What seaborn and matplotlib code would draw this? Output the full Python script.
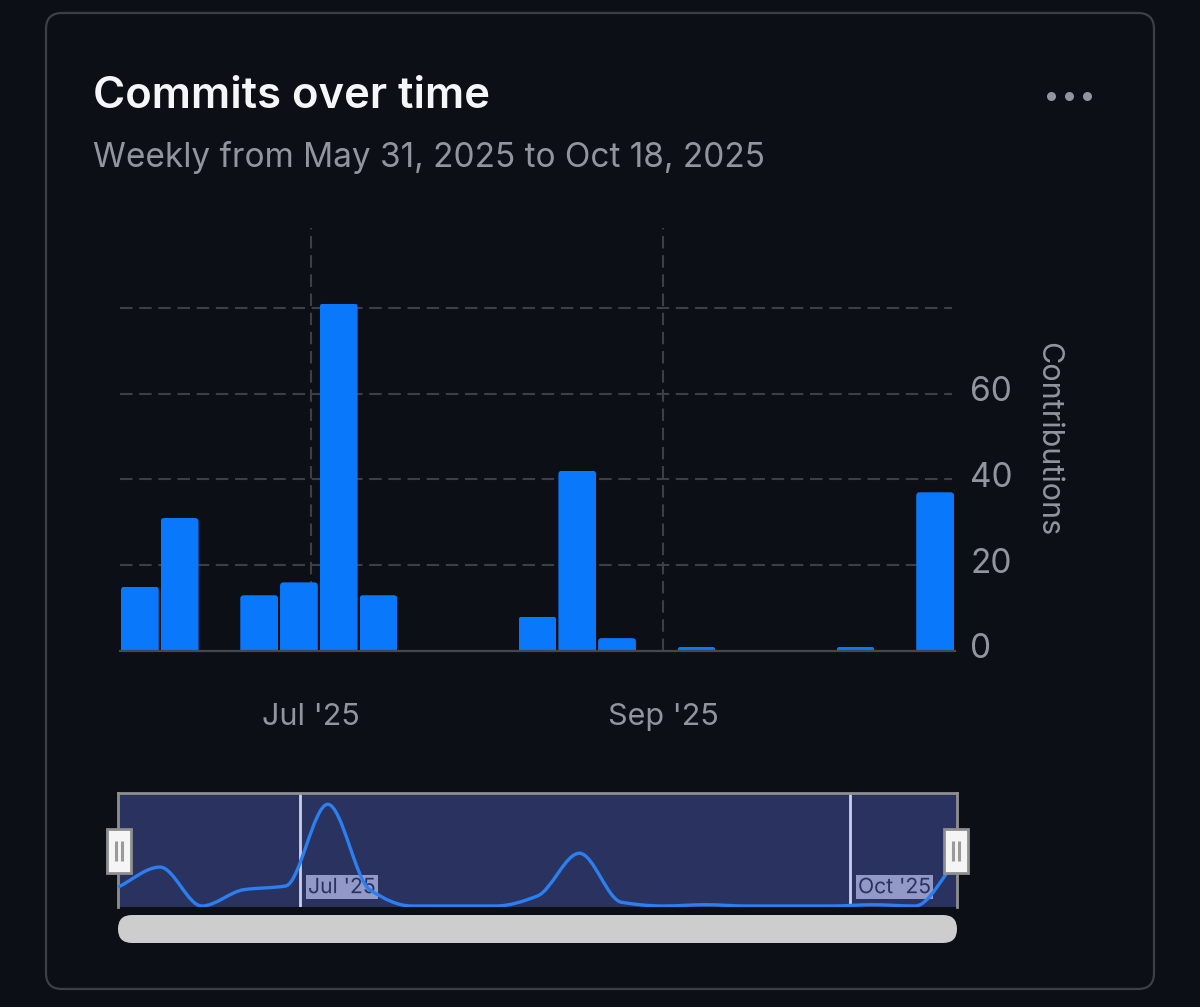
import numpy as np
import pandas as pd
import matplotlib
matplotlib.use("Agg")
import matplotlib.pyplot as plt
import matplotlib.patheffects as pe
import seaborn as sns
from matplotlib.path import Path
from matplotlib.patches import PathPatch, FancyBboxPatch, Rectangle
from matplotlib.transforms import ScaledTranslation

# ---- data ----
weeks = ["May 31", "Jun 7", "Jun 14", "Jun 21", "Jun 28", "Jul 5", "Jul 12", "Jul 19", "Jul 26",
         "Aug 2", "Aug 9", "Aug 16", "Aug 23", "Aug 30", "Sep 6", "Sep 13", "Sep 20", "Sep 27",
         "Oct 4", "Oct 11", "Oct 18"]
commits = [15, 31, 0, 13, 16, 81, 13, 0, 0, 0, 8, 42, 3, 0, 1, 0, 0, 0, 1, 0, 37]
y_ticks = [0, 20, 40, 60]
y_grid = [20, 40, 60, 80]
x_tick_pos = [4.30, 13.16]
x_tick_labels = ["Jul '25", "Sep '25"]
nav_tick_pos = [4.34, 17.45]
nav_tick_labels = ["Jul '25", "Oct '25"]

W, H = 1200, 1007
BG = "#0c0f16"
BLUE = "#0a78fb"
MUTED = "#92959d"
GRID = "#3b3f46"

sns.set_theme(style="dark")
plt.rcParams["font.family"] = ["Inter", "DejaVu Sans"]
plt.rcParams["axes.facecolor"] = "none"

fig = plt.figure(figsize=(W / 100, H / 100), dpi=100, facecolor=BG)

def px_axes(x0, y0, x1, y1, **kw):
    return fig.add_axes([x0 / W, 1 - y1 / H, (x1 - x0) / W, (y1 - y0) / H], **kw)

# overlay in pixel coordinates for the card chrome
bgax = px_axes(0, 0, W, H, zorder=0)
bgax.set_xlim(0, W); bgax.set_ylim(H, 0); bgax.axis("off")
bgax.add_patch(FancyBboxPatch((46, 13), 1108, 976, boxstyle="round,pad=0,rounding_size=16",
                              fc=BG, ec="#3b3f46", lw=1.6))
bgax.text(93, 97, "Commits over time", color="#f4f6f8", fontsize=31.4, fontweight="semibold", va="center")
bgax.text(93, 158, "Weekly from May 31, 2025 to Oct 18, 2025", color=MUTED, fontsize=24, va="center")
for dot_x in (1051, 1069, 1087):
    bgax.plot(dot_x, 96, "o", color=MUTED, ms=6.5, mew=0)

# ---- main chart ----
df = pd.DataFrame({"week": weeks, "commits": commits})
ax = px_axes(120, 228, 955, 651, zorder=2)
sns.barplot(data=df, x="week", y="commits", color=BLUE, saturation=1, width=0.95, ax=ax, zorder=3,
            edgecolor="none", linewidth=0)
ax.set_xlim(-0.5, len(weeks) - 0.5)
ax.set_ylim(0, 98.6)
ax.grid(False)
for s in ("top", "left", "right"):
    ax.spines[s].set_visible(False)
ax.spines["bottom"].set_color("#44484f")
ax.spines["bottom"].set_linewidth(1.6)
ax.spines["bottom"].set_zorder(5)

# rounded top corners of the bars
for bar in ax.containers[0]:
    h = bar.get_height()
    if h <= 0:
        continue
    x0, w = bar.get_x(), bar.get_width()
    rx, ry = 0.09, 0.85
    verts = [(x0, 0), (x0, h - ry), (x0, h), (x0 + rx, h), (x0 + w - rx, h), (x0 + w, h),
             (x0 + w, h - ry), (x0 + w, 0), (x0, 0)]
    codes = [Path.MOVETO, Path.LINETO, Path.CURVE3, Path.CURVE3, Path.LINETO, Path.CURVE3,
             Path.CURVE3, Path.LINETO, Path.CLOSEPOLY]
    bar.set_clip_path(Path(verts, codes), ax.transData)

for v in y_grid:
    ax.plot([-0.5, 20.42], [v, v], color=GRID, lw=1.5, dashes=(6, 3.2), zorder=1)
for p in x_tick_pos:
    ax.plot([p, p], [0, 98.6], color=GRID, lw=1.5, dashes=(6, 3.2), zorder=1)

ax.set_xticks(x_tick_pos, x_tick_labels)
ax.tick_params(axis="x", length=0, pad=37.5, labelsize=22, labelcolor=MUTED)
ax.yaxis.tick_right()
ax.set_yticks(y_ticks, [str(v) for v in y_ticks])
ax.tick_params(axis="y", length=0, pad=11, labelsize=24, labelcolor=MUTED)
offset = ScaledTranslation(0, 5 / 100, fig.dpi_scale_trans)
for lab in ax.get_yticklabels():
    lab.set_transform(lab.get_transform() + offset)
ax.set_xlabel(""); ax.set_ylabel("")
bgax.text(1048, 439, "Contributions", color=MUTED, fontsize=22, rotation=270, ha="center", va="center")

# ---- navigator ----
nav = px_axes(118, 793, 957, 907, zorder=3)
nav.set_facecolor("#2a3360")
nav.patch.set_facecolor("#2a3360")
nav.set_xlim(0, len(commits) - 1)
nav.set_ylim(-0.8, 90)
nav.set_xticks([]); nav.set_yticks([])
nav.set_xlabel(""); nav.set_ylabel("")
for s in ("top", "left", "right"):
    nav.spines[s].set_color("#8f8f8f")
    nav.spines[s].set_linewidth(2)
nav.spines["bottom"].set_visible(False)

# monotone cubic tangents, drawn as Bezier segments through the weekly values
xs = np.arange(len(commits), dtype=float)
ys = np.array(commits, dtype=float)
d = np.diff(ys)
m = np.zeros_like(ys)
for i in range(1, len(ys) - 1):
    if d[i - 1] * d[i] > 0:
        m[i] = 2 * d[i - 1] * d[i] / (d[i - 1] + d[i])
m[0], m[-1] = d[0], d[-1]
verts = [(xs[0], ys[0])]
codes = [Path.MOVETO]
for i in range(len(ys) - 1):
    verts += [(xs[i] + 1 / 3, ys[i] + m[i] / 3), (xs[i + 1] - 1 / 3, ys[i + 1] - m[i + 1] / 3), (xs[i + 1], ys[i + 1])]
    codes += [Path.CURVE4] * 3
nav.add_patch(PathPatch(Path(verts, codes), fc="none", ec="#2b7ff0", lw=2.4, zorder=5))
for p, lab in zip(nav_tick_pos, nav_tick_labels):
    nav.axvline(p, color="#c9d0ee", lw=2, zorder=2)
    nav.text(p + 0.19, 15, lab, color="#2a3262", fontsize=15.2, ha="left", va="center", zorder=4,
             bbox=dict(fc="#9299c6", ec="none", pad=1.5),
             path_effects=[pe.withStroke(linewidth=3, foreground="#9299c6")])

# navigator handles and scrollbar
top = px_axes(0, 0, W, H, zorder=4)
top.set_xlim(0, W); top.set_ylim(H, 0); top.axis("off")
top.add_patch(FancyBboxPatch((118, 915), 839, 28, boxstyle="round,pad=0,rounding_size=14",
                             fc="#cdcdcd", ec="none"))
for hx in (119, 956):
    top.add_patch(Rectangle((hx - 12, 829), 24, 44, fc="#f5f5f5", ec="#8f8f8f", lw=2))
    for gx in (-3, 3):
        top.plot([hx + gx, hx + gx], [841, 861], color="#9a9a9a", lw=2.2, solid_capstyle="butt")

fig.savefig("out.png", dpi=100, facecolor=BG)
